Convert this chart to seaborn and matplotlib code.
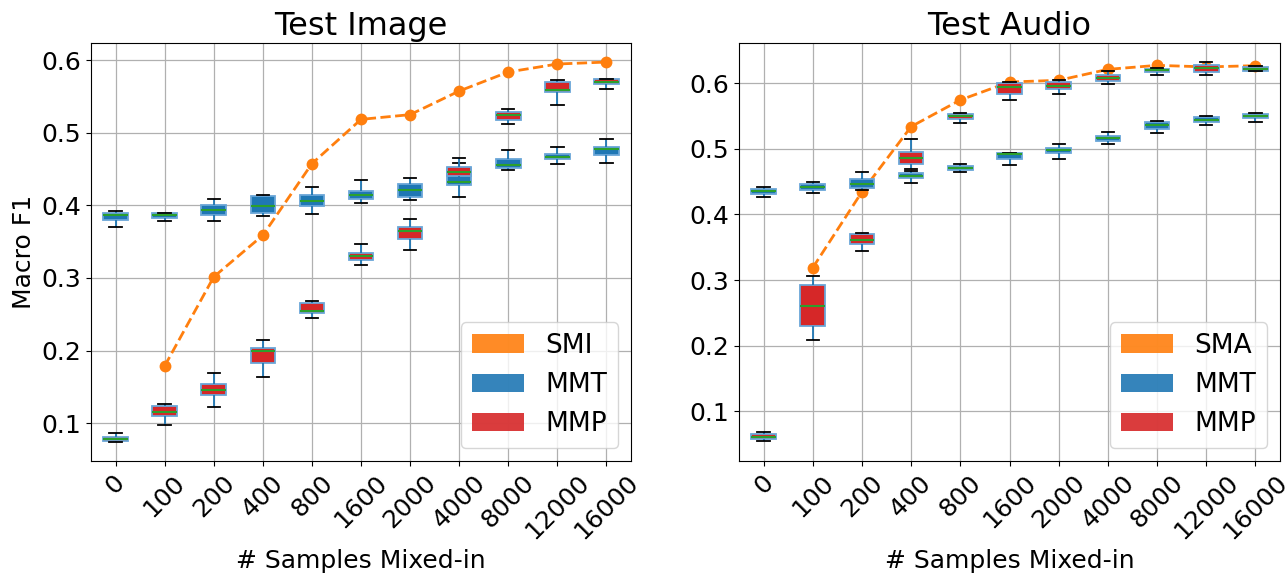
import numpy as np
import pandas as pd
import matplotlib
matplotlib.use("Agg")
import matplotlib.pyplot as plt
from matplotlib.patches import Patch
import seaborn as sns

labels = ["0", "100", "200", "400", "800", "1600", "2000", "4000", "8000", "12000", "16000"]

# five-number summaries per box: (whisker low, q1, median, q3, whisker high)
img_mmt = [
    (0.370, 0.380, 0.386, 0.390, 0.392),
    (0.379, 0.383, 0.387, 0.389, 0.389),
    (0.378, 0.386, 0.393, 0.401, 0.409),
    (0.385, 0.390, 0.399, 0.413, 0.414),
    (0.3885, 0.3986, 0.406, 0.4142, 0.4248),
    (0.4037, 0.4083, 0.4138, 0.4202, 0.4353),
    (0.4069, 0.411, 0.4206, 0.4298, 0.4381),
    (0.4115, 0.428, 0.4326, 0.452, 0.458),
    (0.4491, 0.4514, 0.456, 0.4633, 0.4761),
    (0.4569, 0.4633, 0.466, 0.4711, 0.4803),
    (0.4578, 0.4693, 0.4775, 0.4798, 0.4913),
]
img_mmp = [
    (0.0739, 0.0753, 0.0785, 0.0817, 0.0867),
    (0.0973, 0.1105, 0.1156, 0.1233, 0.127),
    (0.122, 0.1385, 0.1458, 0.154, 0.1696),
    (0.1641, 0.1833, 0.1991, 0.2032, 0.2144),
    (0.2451, 0.252, 0.2551, 0.2657, 0.268),
    (0.3183, 0.3252, 0.3307, 0.3348, 0.3462),
    (0.3389, 0.353, 0.3647, 0.3706, 0.3817),
    (0.432, 0.4404, 0.4459, 0.4532, 0.4656),
    (0.5119, 0.5179, 0.5248, 0.5289, 0.5321),
    (0.5385, 0.5555, 0.5592, 0.5697, 0.5729),
    (0.5596, 0.5665, 0.5697, 0.5734, 0.5739),
]
img_smi = [np.nan, 0.1787, 0.3014, 0.3587, 0.4573, 0.5183, 0.5248, 0.5573, 0.5835, 0.5945, 0.5972]

aud_mmt = [
    (0.4269, 0.431, 0.435, 0.4391, 0.4421),
    (0.4325, 0.437, 0.4421, 0.4462, 0.4497),
    (0.437, 0.4401, 0.4472, 0.4548, 0.464),
    (0.4487, 0.4558, 0.4589, 0.4629, 0.466),
    (0.4645, 0.4675, 0.4711, 0.4736, 0.4777),
    (0.4761, 0.4853, 0.4919, 0.4934, 0.4939),
    (0.4848, 0.4934, 0.4985, 0.502, 0.5081),
    (0.5071, 0.5127, 0.5162, 0.5198, 0.5254),
    (0.5249, 0.53, 0.5371, 0.5411, 0.5421),
    (0.536, 0.5411, 0.5442, 0.5482, 0.5503),
    (0.5411, 0.5467, 0.5497, 0.5528, 0.5543),
]
aud_mmp = [
    (0.0538, 0.0569, 0.0609, 0.0645, 0.068),
    (0.2091, 0.23, 0.2604, 0.2929, 0.3056),
    (0.3447, 0.3543, 0.3604, 0.37, 0.3721),
    (0.469, 0.4766, 0.4858, 0.4959, 0.5147),
    (0.5396, 0.5462, 0.5503, 0.5533, 0.5543),
    (0.5746, 0.5843, 0.5949, 0.6, 0.602),
    (0.5838, 0.5909, 0.5964, 0.602, 0.6046),
    (0.5985, 0.6036, 0.6081, 0.6122, 0.6193),
    (0.6127, 0.6168, 0.6198, 0.6223, 0.6239),
    (0.6132, 0.6173, 0.6228, 0.6274, 0.632),
    (0.6183, 0.6193, 0.6223, 0.6249, 0.6269),
]
aud_sma = [np.nan, 0.3188, 0.4345, 0.534, 0.5746, 0.602, 0.6046, 0.6213, 0.6274, 0.625, 0.6269]

BLUE = "#1f77b4"
RED = "#d62728"
ORANGE = "#ff7f0e"
GREEN = "#2ca02c"
EDGE = "#6aa6d8"


def long_df(stats):
    rows = []
    for lab, s in zip(labels, stats):
        for v in s:
            rows.append((lab, v))
    return pd.DataFrame(rows, columns=["n", "v"])


def draw_box(ax, stats, color):
    sns.boxplot(data=long_df(stats), x="n", y="v", order=labels, ax=ax,
                color=color, saturation=1, width=0.5, whis=(0, 100),
                linewidth=1.3, showfliers=False,
                boxprops=dict(facecolor=color, edgecolor=EDGE, linewidth=1.3),
                whiskerprops=dict(color=BLUE, linewidth=1.3),
                capprops=dict(color="black", linewidth=1.3),
                medianprops=dict(color=GREEN, linewidth=1.5))


def panel(ax, mmt, mmp, line, line_label, title, ylim):
    valid = [i for i, v in enumerate(line) if not np.isnan(v)]
    sns.pointplot(x=[labels[i] for i in valid], y=[line[i] for i in valid], order=labels,
                  ax=ax, color=ORANGE, linestyle="--", marker="o", markersize=7,
                  linewidth=2, errorbar=None)
    draw_box(ax, mmt, BLUE)
    draw_box(ax, mmp, RED)
    ax.set_xlim(-0.5, len(labels) - 0.5)
    ax.set_ylim(*ylim)
    ax.set_yticks([0.1, 0.2, 0.3, 0.4, 0.5, 0.6])
    ax.grid(True, color="#b0b0b0", linewidth=0.9)
    ax.set_axisbelow(True)
    ax.set_title(title, fontsize=23)
    ax.set_xlabel("# Samples Mixed-in", fontsize=18)
    ax.set_ylabel("")
    ax.tick_params(axis="both", labelsize=18, color="black", labelcolor="black")
    for t in ax.get_xticklabels():
        t.set_rotation(45)
    for sp in ax.spines.values():
        sp.set_color("black")
    handles = [Patch(facecolor=ORANGE, alpha=0.9, label=line_label),
               Patch(facecolor=BLUE, alpha=0.9, label="MMT"),
               Patch(facecolor=RED, alpha=0.9, label="MMP")]
    ax.legend(handles=handles, loc="lower right", fontsize=19)


plt.rcParams["font.family"] = ["DejaVu Sans"]
plt.rcParams["text.color"] = "black"
plt.rcParams["axes.labelcolor"] = "black"

fig = plt.figure(figsize=(12.87, 5.73), dpi=100)
ax1 = fig.add_axes([0.0707, 0.1955, 0.4196, 0.7289])
ax2 = fig.add_axes([0.5742, 0.1955, 0.4204, 0.7289])

panel(ax1, img_mmt, img_mmp, img_smi, "SMI", "Test Image", (0.048, 0.623))
panel(ax2, aud_mmt, aud_mmp, aud_sma, "SMA", "Test Audio", (0.024, 0.661))
ax1.set_ylabel("Macro F1", fontsize=18)

fig.savefig("out.png", dpi=100)
